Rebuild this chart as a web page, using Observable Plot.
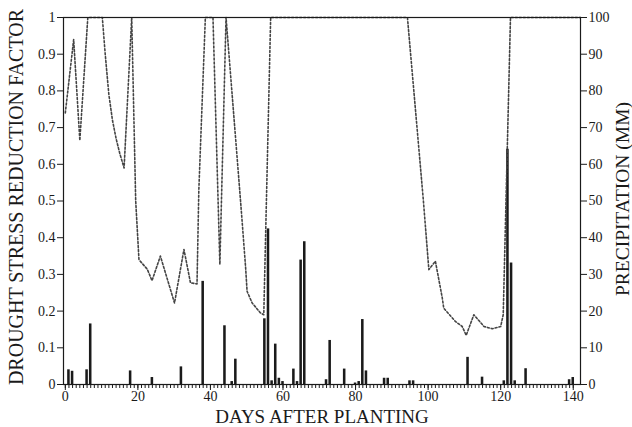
<!DOCTYPE html>
<html>
<head>
<meta charset="utf-8">
<script src="https://cdn.jsdelivr.net/npm/d3@7"></script>
<script src="https://cdn.jsdelivr.net/npm/@observablehq/plot@0.6"></script>
<style>
  body { margin: 0; background: #fff; }
  #chart svg { display: block; }
</style>
</head>
<body>
<div id="chart"></div>
<script>
// Precipitation bars (days after planting, mm)
const rainDays = [1, 2, 6, 7, 18, 24, 32, 38, 44, 46, 47, 55, 56, 57, 58, 59, 60, 63, 64, 65, 66, 72, 73, 77, 80, 81, 82, 83, 88, 89, 95, 96, 111, 115, 121, 122, 123, 124, 127, 139, 140];
const rainMm   = [4.0, 3.6, 4.0, 16.5, 3.7, 1.9, 4.8, 28.1, 16.0, 0.8, 6.9, 17.9, 42.4, 1.0, 11.0, 1.7, 0.8, 4.2, 0.8, 33.9, 38.9, 1.3, 12.0, 4.2, 0.4, 0.8, 17.7, 3.7, 1.7, 1.7, 1.0, 1.0, 7.4, 2.0, 1.0, 64.1, 33.1, 1.0, 4.3, 1.3, 1.9];

// Drought stress reduction factor (dashed line)
const stressDays   = [0, 2.3, 4.0, 6.2, 10.2, 11, 12, 13, 14, 15, 16.2, 18.3, 19.4, 20.3, 22.6, 23.9, 26.2, 30.1, 32.7, 34.5, 36.3, 36.8, 38.6, 40.7, 42.6, 44.3, 48.3, 48.8, 49.7, 50.1, 51.5, 53.8, 54.7, 56.6, 94.3, 98.7, 100.2, 102, 103.9, 104.3, 107.5, 109.4, 110.5, 112.6, 115.4, 117.7, 120, 120.7, 122.7, 142];
const stressFactor = [0.74, 0.94, 0.665, 1.0, 1.0, 0.9, 0.79, 0.72, 0.67, 0.63, 0.59, 1.0, 0.5, 0.34, 0.314, 0.283, 0.35, 0.222, 0.368, 0.277, 0.274, 0.53, 1.0, 1.0, 0.327, 1.0, 0.5, 0.436, 0.318, 0.254, 0.222, 0.195, 0.19, 1.0, 1.0, 0.5, 0.313, 0.336, 0.236, 0.208, 0.172, 0.158, 0.134, 0.19, 0.158, 0.152, 0.158, 0.19, 1.0, 1.0];

// Tick values
const xTicks = [0, 20, 40, 60, 80, 100, 120, 140];
const xMinorTicks = d3.range(0, 141, 1);
const leftTicks = [0, 0.1, 0.2, 0.3, 0.4, 0.5, 0.6, 0.7, 0.8, 0.9, 1];
const rightTicks = [0, 10, 20, 30, 40, 50, 60, 70, 80, 90, 100];

const xTitle = "DAYS AFTER PLANTING";
const yLeftTitle = "DROUGHT STRESS REDUCTION FACTOR";
const yRightTitle = "PRECIPITATION (MM)";

const rain = rainDays.map((d, i) => ({day: d, mm: rainMm[i]}));
const stress = stressDays.map((d, i) => ({day: d, f: stressFactor[i]}));

const serif = "'Liberation Serif', 'Times New Roman', serif";
const ink = "#1a1a1a";

const chart = Plot.plot({
  width: 632,
  height: 427,
  marginLeft: 63,
  marginRight: 52,
  marginTop: 17,
  marginBottom: 43,
  style: {fontFamily: serif, fontSize: "14px", color: ink, background: "#fff"},
  x: {domain: [-0.5, 142]},
  y: {domain: [0, 100]},
  marks: [
    Plot.rectY(rain, {x1: d => d.day - 0.35, x2: d => d.day + 0.35, y: "mm", fill: ink}),
    Plot.line(stress, {x: "day", y: d => d.f * 100, stroke: "#444", strokeWidth: 1.6, strokeDasharray: "2,2"}),
    Plot.frame({stroke: ink, strokeWidth: 1.2}),
    Plot.axisX({ticks: xMinorTicks, tickSize: 4, tickFormat: () => "", label: null, stroke: ink}),
    Plot.axisX({ticks: xTicks, tickSize: 6, tickPadding: 1, label: null, fontSize: 14, stroke: ink}),
    Plot.axisY({anchor: "left", ticks: leftTicks.map(v => v * 100), tickFormat: d => String(+(d / 100).toFixed(1)), tickSize: 6, tickPadding: 2, label: null, fontSize: 14, stroke: ink}),
    Plot.axisY({anchor: "right", ticks: rightTicks, tickSize: 6, tickPadding: 2, label: null, fontSize: 14, stroke: ink}),
    Plot.text([xTitle], {frameAnchor: "bottom", dy: 38, textAnchor: "middle", fontSize: 19, fill: ink, fontFamily: serif}),
    Plot.text([yLeftTitle], {frameAnchor: "left", dx: -47, dy: -4, textAnchor: "middle", rotate: -90, fontSize: 20, fill: ink, fontFamily: serif}),
    Plot.text([yRightTitle], {frameAnchor: "right", dx: 42, dy: -2, textAnchor: "middle", rotate: -90, fontSize: 19.5, fill: ink, fontFamily: serif})
  ]
});

document.getElementById("chart").appendChild(chart);
</script>
</body>
</html>
